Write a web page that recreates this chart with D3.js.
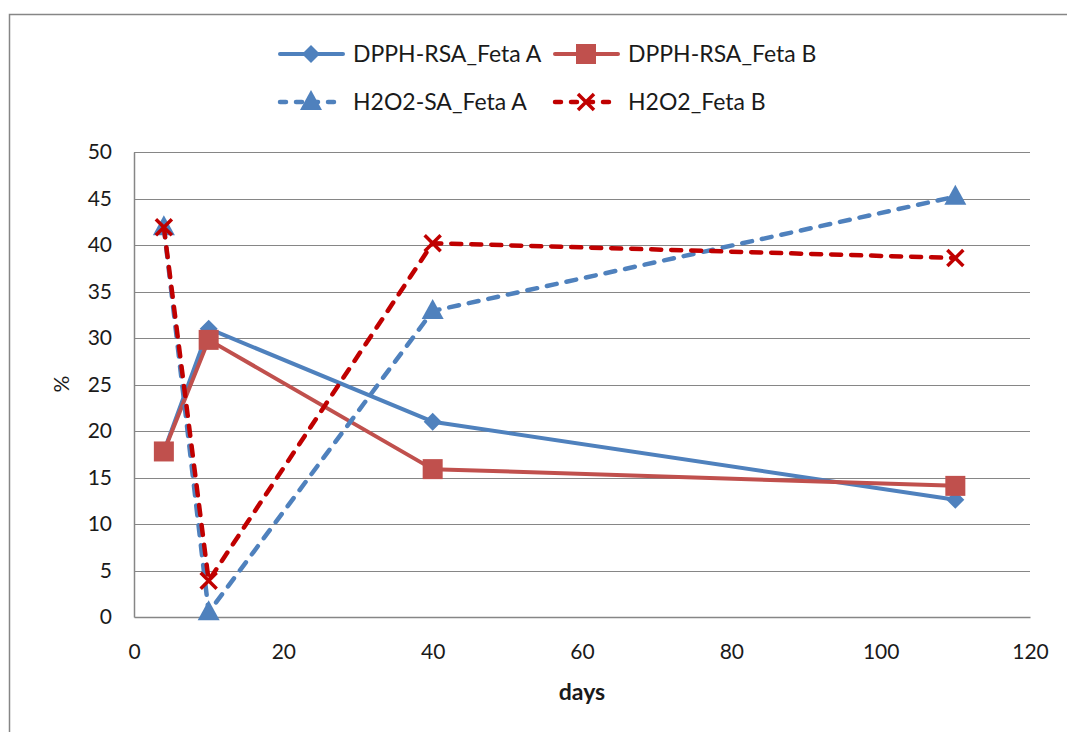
<!DOCTYPE html>
<html><head><meta charset="utf-8">
<script src="https://cdn.jsdelivr.net/npm/d3@7"></script>
<style>body{margin:0;background:#fff;} svg{display:block;} text{font-family:Lato,"Open Sans",sans-serif;fill:#1a1a1a;}</style>
</head><body>
<svg id="c" width="1067" height="732"></svg>
<script>
const days = [4, 10, 40, 110];
const dpphA = [17.8, 31.0, 21.0, 12.6];
const dpphB = [17.8, 29.8, 15.9, 14.1];
const h2o2A = [41.9, 0.5, 32.9, 45.2];
const h2o2B = [41.9, 3.9, 40.2, 38.6];
const xTicks = [0, 20, 40, 60, 80, 100, 120];
const yTicks = [0, 5, 10, 15, 20, 25, 30, 35, 40, 45, 50];
const seriesNames = ["DPPH-RSA_Feta A", "DPPH-RSA_Feta B", "H2O2-SA_Feta A", "H2O2_Feta B"];

const series = [
  {name: seriesNames[0], values: dpphA, color: "#4F81BD", dash: null, marker: "diamond"},
  {name: seriesNames[1], values: dpphB, color: "#C0504D", dash: null, marker: "square"},
  {name: seriesNames[2], values: h2o2A, color: "#4F81BD", dash: "10,10", marker: "triangle"},
  {name: seriesNames[3], values: h2o2B, color: "#C00000", dash: "10,10", marker: "x"}
];

const svg = d3.select("#c");
const x = d3.scaleLinear().domain([0, 120]).range([134, 1030]);
const y = d3.scaleLinear().domain([0, 50]).range([617, 152]);
const grid = "#868686";

svg.append("rect").attr("x", 9.5).attr("y", 14.5).attr("width", 1100).attr("height", 800)
  .attr("fill", "none").attr("stroke", grid).attr("stroke-width", 1.5);

svg.append("g").selectAll("line").data(yTicks.filter(d => d > 0)).join("line")
  .attr("x1", x(0)).attr("x2", x(120)).attr("y1", d => Math.round(y(d)) + 0.5).attr("y2", d => Math.round(y(d)) + 0.5)
  .attr("stroke", grid).attr("stroke-width", 1);

const yAxis = d3.axisLeft(y).tickValues(yTicks).tickSize(0).tickPadding(22);
const gy = svg.append("g").attr("transform", `translate(${x(0)},0)`).call(yAxis);
const xAxis = d3.axisBottom(x).tickValues(xTicks).tickSize(0).tickPadding(27);
const gx = svg.append("g").attr("transform", `translate(0,${y(0)})`).call(xAxis);
[gy, gx].forEach(g => {
  g.select(".domain").attr("stroke", grid).attr("stroke-width", 1.5);
  g.selectAll("text").style("font-size", "21px").attr("fill", "#1a1a1a").style("font-family", "Lato, sans-serif");
});

svg.append("text").attr("x", x(60)).attr("y", 700).attr("text-anchor", "middle")
  .style("font-size", "23px").style("font-weight", "bold").text("days");
svg.append("text").attr("transform", `translate(69,384) rotate(-90)`).attr("text-anchor", "middle")
  .style("font-size", "21px").text("%");

function drawMarker(g, type, color, cx, cy) {
  if (type === "diamond") {
    g.append("path").attr("d", `M${cx},${cy-9}L${cx+9},${cy}L${cx},${cy+9}L${cx-9},${cy}Z`).attr("fill", color);
  } else if (type === "square") {
    g.append("rect").attr("x", cx-10).attr("y", cy-10).attr("width", 20).attr("height", 20).attr("fill", color);
  } else if (type === "triangle") {
    g.append("path").attr("d", `M${cx},${cy-12}L${cx+11},${cy+8}L${cx-11},${cy+8}Z`).attr("fill", color);
  } else if (type === "x") {
    g.append("path").attr("d", `M${cx-8},${cy-8}L${cx+8},${cy+8}M${cx+8},${cy-8}L${cx-8},${cy+8}`)
      .attr("stroke", color).attr("stroke-width", 3.5).attr("fill", "none");
  }
}

const line = d3.line().x(d => x(d[0])).y(d => y(d[1]));
series.forEach(s => {
  const g = svg.append("g");
  const pts = days.map((d, i) => [d, s.values[i]]);
  g.append("path").attr("d", line(pts)).attr("fill", "none").attr("stroke", s.color)
    .attr("stroke-width", s.dash ? 4.5 : 4).attr("stroke-dasharray", s.dash).attr("stroke-linejoin", "round")
    .attr("stroke-linecap", s.dash ? "round" : "butt");
  pts.forEach(p => drawMarker(g, s.marker, s.color, x(p[0]), y(p[1])));
});

const legPos = [[278, 54], [553, 54], [278, 102], [553, 102]];
series.forEach((s, i) => {
  const [lx, ly] = legPos[i];
  const g = svg.append("g");
  g.append("line").attr("x1", lx + 2).attr("x2", lx + 65).attr("y1", ly).attr("y2", ly)
    .attr("stroke", s.color).attr("stroke-width", s.dash ? 4.5 : 4).attr("stroke-linecap", "round")
    .attr("stroke-dasharray", s.dash ? "6,10" : null);
  drawMarker(g, s.marker, s.color, lx + 33, ly);
  g.append("text").attr("x", lx + 75).attr("y", ly).attr("dy", "0.35em").style("font-size", "23px").text(s.name);
});
</script>
</body></html>
